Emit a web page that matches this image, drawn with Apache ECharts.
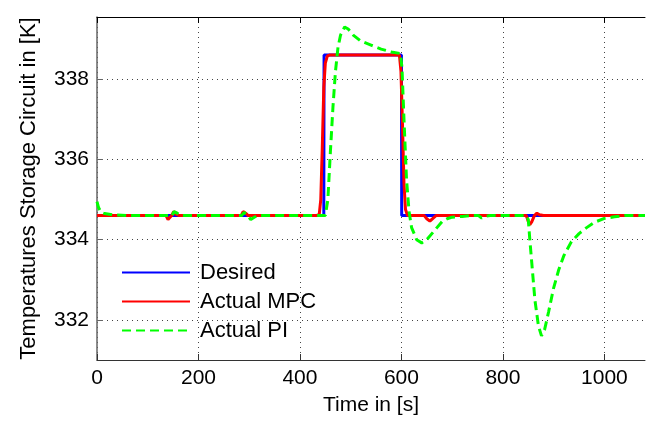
<!DOCTYPE html>
<html>
<head>
<meta charset="utf-8">
<script src="https://cdn.jsdelivr.net/npm/echarts@6/dist/echarts.min.js"></script>
<style>html,body{margin:0;padding:0;background:#fff}#c{width:648px;height:424px}</style>
</head>
<body>
<div id="c"></div>
<script>
var xTicks = [0, 200, 400, 600, 800, 1000];
var yTicks = [332, 334, 336, 338];

var desiredT = [0, 447, 447.5, 600, 600.5, 1080];
var desiredV = [334.6, 334.6, 338.6, 338.6, 334.6, 334.6];

var mpcT = [0, 136, 140, 143, 147, 151, 156, 162, 284, 288, 293, 298, 432, 438, 441, 444, 447, 450, 454, 458, 596, 599, 602, 605, 608, 612, 645, 650, 656, 661, 668, 846, 850, 853, 857, 862, 867, 872, 880, 1080];
var mpcV = [334.6, 334.6, 334.5, 334.48, 334.6, 334.7, 334.63, 334.6, 334.6, 334.7, 334.66, 334.6, 334.6, 334.63, 335.0, 336.3, 337.8, 338.4, 338.58, 338.6, 338.6, 338.2, 336.9, 335.4, 334.75, 334.6, 334.6, 334.52, 334.46, 334.52, 334.6, 334.6, 334.45, 334.37, 334.45, 334.6, 334.66, 334.62, 334.6, 334.6];

var piT = [0, 3, 8, 15, 30, 60, 142, 147, 152, 158, 165, 285, 290, 297, 303, 310, 318, 450, 455, 460, 465, 470, 475, 480, 488, 495, 505, 520, 540, 560, 580, 598, 601, 605, 610, 615, 620, 630, 640, 650, 660, 670, 680, 690, 700, 720, 740, 752, 758, 765, 775, 846, 850, 853, 857, 863, 870, 876, 882, 890, 900, 910, 920, 935, 950, 965, 980, 1000, 1020, 1040, 1080];
var piV = [334.95, 334.8, 334.68, 334.65, 334.62, 334.6, 334.6, 334.58, 334.7, 334.66, 334.6, 334.6, 334.68, 334.6, 334.5, 334.56, 334.6, 334.6, 335.0, 336.2, 337.3, 338.2, 338.8, 339.1, 339.3, 339.25, 339.1, 338.95, 338.85, 338.75, 338.68, 338.64, 338.3, 337.0, 335.5, 334.7, 334.3, 334.0, 333.92, 334.0, 334.15, 334.3, 334.45, 334.52, 334.56, 334.58, 334.6, 334.6, 334.54, 334.58, 334.6, 334.6, 334.5, 334.0, 333.4, 332.5, 331.85, 331.6, 331.75, 332.2, 332.8, 333.25, 333.6, 333.95, 334.15, 334.3, 334.43, 334.53, 334.57, 334.6, 334.6];

function pairs(t, v) { return t.map(function (x, i) { return [x, v[i]]; }); }

var FONT = '"Liberation Sans", Arial, sans-serif';
var chart = echarts.init(document.getElementById('c'), null, { renderer: 'canvas' });
var gridLine = { show: true, lineStyle: { color: '#444', width: 1, type: [1, 4] } };
chart.setOption({
  animation: false,
  backgroundColor: '#fff',
  grid: { left: 97, top: 17, right: 3, bottom: 64, containLabel: false },
  legend: {
    orient: 'vertical', left: 121, top: 261, padding: 0,
    itemWidth: 68, itemHeight: 14, itemGap: 6,
    itemStyle: { opacity: 0, borderWidth: 0 },
    textStyle: { fontFamily: FONT, fontSize: 22, color: '#000', lineHeight: 23, padding: [0, 0, 0, 5] },
    data: ['Desired', 'Actual MPC', 'Actual PI']
  },
  xAxis: [{
    type: 'value', min: 0, max: 1080, position: 'bottom',
    name: 'Time in [s]', nameLocation: 'middle', nameGap: 35,
    nameTextStyle: { fontFamily: FONT, fontSize: 21, color: '#000' },
    axisLine: { show: true, lineStyle: { color: '#333', width: 1 } },
    axisTick: { show: true, inside: true, length: 6, customValues: xTicks, lineStyle: { color: '#333' } },
    axisLabel: { customValues: xTicks, margin: 8, fontFamily: FONT, fontSize: 21, color: '#000',
      formatter: function (v) { return String(v); } },
    splitLine: gridLine
  }, {
    type: 'value', min: 0, max: 1080, position: 'top',
    axisLine: { show: true, lineStyle: { color: '#000', width: 1 } },
    axisTick: { show: true, inside: true, length: 6, customValues: xTicks, lineStyle: { color: '#000' } },
    axisLabel: { show: false },
    splitLine: { show: false }
  }],
  yAxis: [{
    type: 'value', min: 331, max: 339.55,
    name: 'Temperatures Storage Circuit in [K]', nameLocation: 'middle', nameGap: 57,
    nameTextStyle: { fontFamily: FONT, fontSize: 22, color: '#000' },
    axisLine: { show: true, lineStyle: { color: '#666', width: 1.5 } },
    axisTick: { show: true, inside: true, length: 6, customValues: yTicks, lineStyle: { color: '#666' } },
    axisLabel: { customValues: yTicks, margin: 8, fontFamily: FONT, fontSize: 21, color: '#000',
      formatter: function (v) { return String(v); } },
    splitLine: gridLine
  }],
  series: [{
    name: 'Desired', type: 'line', symbol: 'none', data: pairs(desiredT, desiredV),
    lineStyle: { color: '#0000ff', width: 3 }, itemStyle: { color: '#0000ff' }
  }, {
    name: 'Actual MPC', type: 'line', symbol: 'none', data: pairs(mpcT, mpcV),
    lineStyle: { color: '#ff0000', width: 3 }, itemStyle: { color: '#ff0000' }
  }, {
    name: 'Actual PI', type: 'line', symbol: 'none', data: pairs(piT, piV),
    lineStyle: { color: '#00ff00', width: 3, type: [9, 5] }, itemStyle: { color: '#00ff00' }
  }]
});
</script>
</body>
</html>
